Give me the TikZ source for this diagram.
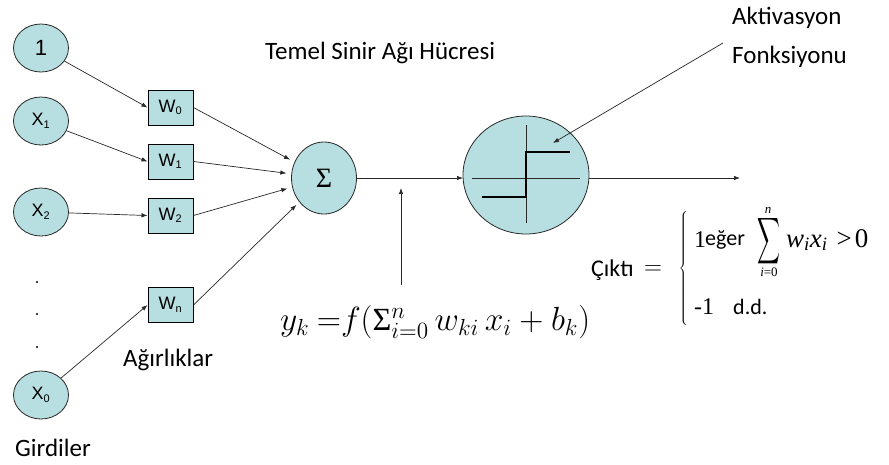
\documentclass[tikz,border=0pt]{standalone}
\usepackage{fontspec}
\setmainfont{Carlito}
\newfontfamily\arialf{Liberation Sans}
\newfontfamily\timesf{Liberation Serif}
\usetikzlibrary{shapes.geometric,arrows.meta}
\definecolor{cellfill}{RGB}{183,222,224}
\definecolor{linegray}{RGB}{40,40,40}
\newcommand{\sbx}[1]{\textsubscript{\fontsize{11}{11}\selectfont #1}}
\begin{document}
\begin{tikzpicture}[x=1pt,y=-1pt,
  inp/.style={ellipse,draw=linegray,line width=0.8pt,fill=cellfill,minimum width=55pt,minimum height=48pt,inner sep=0pt,font=\arialf\fontsize{18}{18}\selectfont},
  wbox/.style={rectangle,draw=black,line width=1pt,fill=cellfill,minimum width=45pt,minimum height=35pt,inner sep=0pt,font=\arialf\fontsize{18}{18}\selectfont},
  conn/.style={draw=linegray,line width=0.7pt,-{Latex[length=6pt,width=4.5pt]}},
  lbl/.style={inner sep=0pt,font=\fontsize{25}{25}\selectfont},
  dotm/.style={circle,fill=black,inner sep=0pt,minimum size=2.3pt}]
\useasboundingbox (0,0) rectangle (889,464);
% inputs
\node[inp,font=\arialf\fontsize{22}{22}\selectfont] (c1) at (41,48) {1};
\node[inp] (x1) at (41,121) {X\sbx{1}};
\node[inp] (x2) at (41,212) {X\sbx{2}};
\node[inp] (x0) at (41,395) {X\sbx{0}};
\node[dotm] (d1) at (37,282) {};
\node[dotm] (d2) at (37,314) {};
\node[dotm] (d3) at (37,347) {};
% weights
\node[wbox] (w0) at (170.5,107.5) {W\sbx{0}};
\node[wbox] (w1) at (170.5,161.5) {W\sbx{1}};
\node[wbox] (w2) at (170.5,215.5) {W\sbx{2}};
\node[wbox] (wn) at (170.5,305) {W\sbx{n}};
% sum and activation
\node[ellipse,draw=linegray,line width=0.8pt,fill=cellfill,minimum width=65pt,minimum height=72pt,inner sep=0pt,font=\timesf\fontsize{28}{28}\selectfont] (s) at (324,178) {Σ};
\node[ellipse,draw=linegray,line width=0.8pt,fill=cellfill,minimum width=126pt,minimum height=118pt,inner sep=0pt] (act) at (526,175) {};
\draw[linegray,line width=0.8pt] ([xshift=-54pt,yshift=-3pt]act.center) -- ([xshift=54pt,yshift=-3pt]act.center);
\draw[linegray,line width=0.8pt] ([yshift=50pt]act.center) -- ([yshift=-48pt]act.center);
\draw[black,line width=2.8pt] ([xshift=-44pt,yshift=-22pt]act.center) -- ([yshift=-22pt]act.center) -- ([yshift=23pt]act.center) -- ([xshift=44pt,yshift=23pt]act.center);
% connectors
\draw[conn] (c1) -- (w0.west);
\draw[conn] (x1) -- (w1.west);
\draw[conn] (x2) -- (w2.west);
\draw[conn] (x0) -- (wn.west);
\draw[conn,shorten >=5pt] (w0.east) -- (s);
\draw[conn,shorten >=5pt] (w1.east) -- (s);
\draw[conn,shorten >=5pt] (w2.east) -- (s);
\draw[conn,shorten >=4pt] (wn.east) -- (s);
\coordinate (sr) at (356,178);
\coordinate (al) at (463,178);
\draw[conn] (sr) -- (al);
\coordinate (ar) at (589,178);
\coordinate (out) at (740,178);
\draw[conn] (ar) -- (out);
\coordinate (fa) at (401,285);
\coordinate (fb) at (401,188);
\draw[conn] (fa) -- (fb);
\coordinate (la) at (723,43);
\coordinate (lb) at (553,143);
\draw[conn] (la) -- (lb);
% labels
\node[lbl,anchor=west] (tmp) at (265,53) {Temel Sinir Ağı Hücresi};
\node[lbl,anchor=west] (akt) at (732,18) {Aktivasyon};
\node[lbl,anchor=west] (fon) at (732,57) {Fonksiyonu};
\node[lbl,anchor=west] (agr) at (123,360) {Ağırlıklar};
\node[lbl,anchor=west] (gir) at (15,448) {Girdiler};
% formula
\node[inner sep=0pt,anchor=west] (yk) at (280,322) {\resizebox{310pt}{!}{\fontsize{20}{20}\selectfont$y_k\ {=}f(\mbox{\timesf\fontsize{20}{20}\selectfont Σ}_{i=0}^{n}\, w_{ki}\,x_i+b_k)$}};
% output
\node[inner sep=0pt,anchor=west,font=\fontsize{24}{24}\selectfont] (cik) at (591,270) {Çıktı};
\node[inner sep=0pt,font=\fontsize{24}{24}\selectfont] (eq) at (653,270) {$=$};
\node[inner sep=0pt] (br) at (684,268) {\fontsize{20}{20}\selectfont$\left\{\rule{0pt}{62pt}\right.$};
\node[inner sep=0pt,anchor=west,font=\timesf\fontsize{24}{24}\selectfont] (one) at (694,240) {1};
\node[inner sep=0pt,anchor=west,font=\fontsize{22}{22}\selectfont] (eger) at (705,240) {eğer};
\node[inner sep=0pt] (sg) at (769,241) {\resizebox{23pt}{34pt}{$\displaystyle\sum$}};
\node[inner sep=0pt,font=\timesf\itshape\fontsize{13}{13}\selectfont] (sgn) at (768,210) {n};
\node[inner sep=0pt,font=\timesf\fontsize{13}{13}\selectfont] (sgi) at (769,272) {\textit{i}=0};
\node[inner sep=0pt,anchor=west,font=\timesf\fontsize{27}{27}\selectfont] (l1b) at (786,240) {\textit{w}\textsubscript{\textit{i}}\textit{x}\textsubscript{\textit{i}}\hspace{9pt}>\hspace{3pt}0};
\node[inner sep=0pt,anchor=west,font=\timesf\fontsize{24}{24}\selectfont] (m1) at (694,307) {-1};
\node[inner sep=0pt,anchor=west,font=\fontsize{22}{22}\selectfont] (dd) at (733,307) {d.d.};
\end{tikzpicture}
\end{document}
